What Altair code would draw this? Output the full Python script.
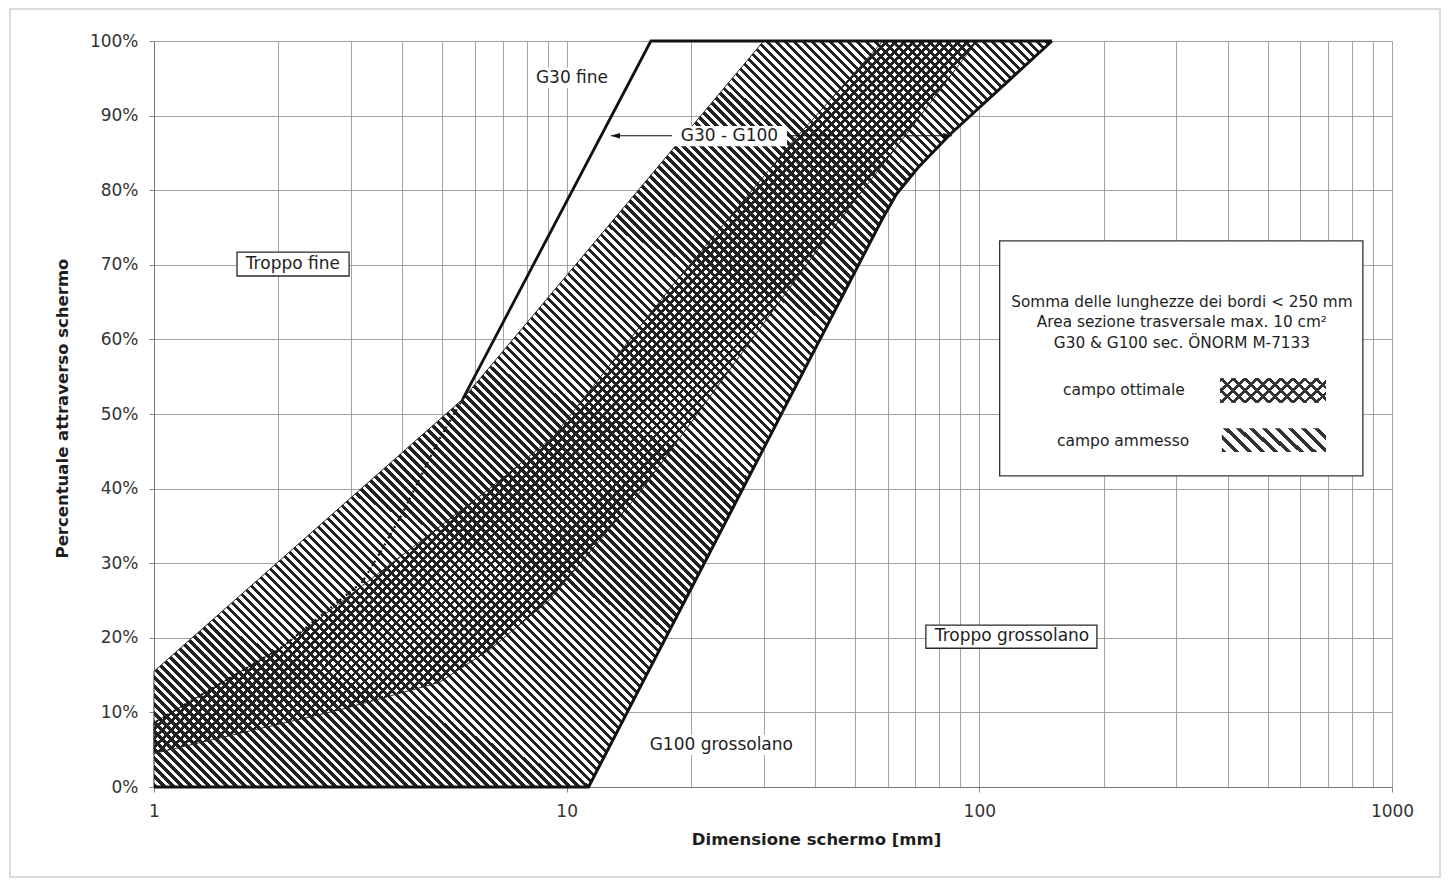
import altair as alt
import pandas as pd

# ---------------- data ----------------
grid_x = [1, 2, 3, 4, 5, 6, 7, 8, 9, 10, 20, 30, 40, 50, 60, 70, 80, 90,
          100, 200, 300, 400, 500, 600, 700, 800, 900, 1000]
grid_y = list(range(0, 101, 5))
x_domain = [1, 1000]
y_domain = [0, 100]

# campo ammesso (outer band), polygon order
ammesso_x = [1, 5.6, 30, 150, 85, 71, 63, 58, 11.3, 1, 1]
ammesso_y = [15.5, 52, 100, 100, 87.5, 83, 79.5, 76, 0, 0, 15.5]

# campo ottimale (inner band), polygon order
ottimale_x = [1, 2.05, 3.2, 6.5, 9.3, 17.9, 35.3, 58.4, 98.7, 65.7, 44, 15, 9.1, 6.5, 4.9, 2.8, 1, 1]
ottimale_y = [8.6, 18.8, 27, 40, 47, 67, 86.5, 100, 100, 87.1, 74.7, 39.4, 25.1, 18.4, 14, 10.3, 4.5, 8.6]

# G30 fine limit
g30_x = [150, 16, 5.6]
g30_y = [100, 100, 52]
g30_inner_x = [5.6, 4.9, 4.0, 3.6, 3.2, 2.05, 1]
g30_inner_y = [52, 46.5, 36.7, 32.2, 27.5, 18.8, 8.6]

# G100 coarse limit
g100_x = [1, 11.3, 58, 63, 71, 85, 150]
g100_y = [0, 0, 76, 79.5, 83, 87.5, 100]

# G30 - G100 arrow
arrow_x = [12.8, 85.9]
arrow_y = [87.3, 87.3]
arrow_shape = ["M0,0L2,-0.6L2,0.6Z", "M0,0L-2,-0.6L-2,0.6Z"]

# plain labels on white background
lab_text = ["G30 fine", "G30 - G100", "G100 grossolano"]
lab_x = [10.3, 24.8, 23.7]
lab_y = [95.0, 87.3, 5.6]
lab_x1 = [8.06, 18.0, 15.3]
lab_x2 = [13.24, 34.2, 36.8]
lab_y1 = [96.4, 88.6, 7.0]
lab_y2 = [93.7, 85.9, 4.3]

# boxed labels
box_text = ["Troppo fine", "Troppo grossolano"]
box_x = [2.17, 120]
box_y = [70.1, 20.2]
box_x1 = [1.589, 74.2]
box_x2 = [2.97, 192.7]
box_y1 = [71.7, 21.7]
box_y2 = [68.5, 18.6]

# legend box
leg_x1, leg_x2, leg_y1, leg_y2 = [112], [850], [73.2], [41.7]
leg_lines = ["Somma delle lunghezze dei bordi < 250 mm",
             "Area sezione trasversale max. 10 cm²",
             "G30 & G100 sec. ÖNORM M-7133"]
leg_lines_x = [309.7, 309.7, 309.7]
leg_lines_y = [65.0, 62.3, 59.5]
leg_items = ["campo ottimale", "campo ammesso"]
leg_items_x = [224, 223]
leg_items_y = [53.2, 46.4]
sw_x1 = [383, 387]
sw_x2 = [692, 692]
sw_y1 = [54.8, 48.1]
sw_y2 = [51.5, 44.9]

FONT = "DejaVu Sans"
INK = "#1e1e1e"
TRANSP = "rgba(255,255,255,0)"
MAJOR_X = "(datum.value == 1 || datum.value == 10 || datum.value == 100 || datum.value == 1000)"


def stripes(n, frac, color, gap, direction, r):
    """Linear-gradient stripe pattern (hatching)."""
    s = (1 + r) / (1 + r * r)
    if direction == "back":
        x1, y1, x2, y2 = 0, 1, s, 1 - s * r
    else:
        x1, y1, x2, y2 = 0, 0, s, s * r
    stops = []
    for k in range(n):
        a = round(k / n, 6)
        b = round((k + frac) / n, 6)
        c = round((k + 1) / n, 6)
        stops += [alt.GradientStop(offset=a, color=color),
                  alt.GradientStop(offset=b, color=color),
                  alt.GradientStop(offset=b, color=gap),
                  alt.GradientStop(offset=c, color=gap)]
    return alt.LinearGradient(gradient="linear", stops=stops,
                              x1=x1, y1=y1, x2=x2, y2=y2)


xscale = alt.Scale(type="log", domain=x_domain, nice=False)
yscale = alt.Scale(domain=y_domain, nice=False)

x_axis = alt.Axis(
    values=grid_x, grid=True, gridColor="#a3a3a3", gridWidth=1,
    labelExpr=MAJOR_X + " ? datum.label : ''",
    format="d",
    labelFont=FONT, labelFontSize=17, labelColor="#333", labelPadding=11,
    labelFlush=False, labelOverlap=False,
    tickSize=5, tickColor="#888",
    tickOpacity={"condition": {"test": MAJOR_X, "value": 1}, "value": 0},
    domainColor="#777",
    title="Dimensione schermo [mm]", titleFont=FONT, titleFontSize=16.5,
    titleFontWeight="bold", titleColor=INK,
    titleX=662, titleY=52, titleAlign="center", titleBaseline="middle",
)
y_axis = alt.Axis(
    values=grid_y, grid=True, gridColor="#a3a3a3", gridWidth=1,
    labelExpr="(datum.value % 10 == 0) ? (datum.value + '%') : ''",
    labelFont=FONT, labelFontSize=17, labelColor="#333", labelPadding=11,
    labelFlush=False, labelOverlap=False,
    tickSize=5, tickColor="#888",
    domainColor="#777",
    title="Percentuale attraverso schermo", titleFont=FONT, titleFontSize=16.5,
    titleFontWeight="bold", titleColor=INK,
    titleX=-92, titleY=367, titleAlign="center", titleBaseline="middle", titleAngle=-90,
)


def X(field="x"):
    return alt.X(f"{field}:Q", scale=xscale)


def Y(field="y"):
    return alt.Y(f"{field}:Q", scale=yscale)


def poly_df(xs, ys):
    return pd.DataFrame({"x": xs, "y": ys, "i": list(range(len(xs)))})


# ---------------- layers ----------------
axes_layer = alt.Chart(pd.DataFrame({"x": x_domain, "y": y_domain})).mark_point(
    opacity=0
).encode(
    x=alt.X("x:Q", scale=xscale, axis=x_axis),
    y=alt.Y("y:Q", scale=yscale, axis=y_axis),
)

# light frame around the whole chart area
frame = alt.Chart(pd.DataFrame({"x": [1]})).mark_rect(
    fill=None, stroke="#cfcfcf", strokeWidth=1.5
).encode(
    x=alt.value(-144), x2=alt.value(1286), y=alt.value(-32), y2=alt.value(836)
)

ammesso = alt.Chart(poly_df(ammesso_x, ammesso_y)).mark_line(
    fill=stripes(183, 0.5, "#222", "#ffffff", "back", 0.832),
    stroke="#2a2a2a", strokeWidth=1,
).encode(x=X(), y=Y(), order="i:Q")

ottimale = alt.Chart(poly_df(ottimale_x, ottimale_y)).mark_line(
    fill=stripes(170, 0.42, "#222", TRANSP, "fwd", 0.865),
    stroke="#2a2a2a", strokeWidth=1,
).encode(x=X(), y=Y(), order="i:Q")

g30_inner = alt.Chart(poly_df(g30_inner_x, g30_inner_y)).mark_line(
    color="#111", strokeWidth=2.2, strokeDash=[2, 2]
).encode(x=X(), y=Y(), order="i:Q")

g30 = alt.Chart(poly_df(g30_x, g30_y)).mark_line(
    color="#111", strokeWidth=2.8
).encode(x=X(), y=Y(), order="i:Q")

g100 = alt.Chart(poly_df(g100_x, g100_y)).mark_line(
    color="#111", strokeWidth=3
).encode(x=X(), y=Y(), order="i:Q")

arrow_df = pd.DataFrame({"x": arrow_x, "y": arrow_y, "shape": arrow_shape,
                         "i": [0, 1]})
arrow_line = alt.Chart(arrow_df).mark_line(color="#111", strokeWidth=1.2).encode(
    x=X(), y=Y(), order="i:Q")
arrow_heads = alt.Chart(arrow_df).mark_point(
    filled=True, color="#111", size=81, opacity=1
).encode(x=X(), y=Y(), shape=alt.Shape("shape:N", scale=None))

lab_df = pd.DataFrame({"t": lab_text, "x": lab_x, "y": lab_y,
                       "x1": lab_x1, "x2": lab_x2, "y1": lab_y1, "y2": lab_y2})
lab_bg = alt.Chart(lab_df).mark_rect(fill="white", strokeWidth=0).encode(
    x=X("x1"), x2="x2:Q", y=Y("y1"), y2="y2:Q")
lab_txt = alt.Chart(lab_df).mark_text(
    font=FONT, fontSize=17, color=INK, align="center", baseline="middle"
).encode(x=X(), y=Y(), text="t:N")

box_df = pd.DataFrame({"t": box_text, "x": box_x, "y": box_y,
                       "x1": box_x1, "x2": box_x2, "y1": box_y1, "y2": box_y2})
box_bg = alt.Chart(box_df).mark_rect(fill="white", stroke="#2a2a2a", strokeWidth=1.3).encode(
    x=X("x1"), x2="x2:Q", y=Y("y1"), y2="y2:Q")
box_txt = alt.Chart(box_df).mark_text(
    font=FONT, fontSize=17, color=INK, align="center", baseline="middle"
).encode(x=X(), y=Y(), text="t:N")

leg_df = pd.DataFrame({"x1": leg_x1, "x2": leg_x2, "y1": leg_y1, "y2": leg_y2})
leg_box = alt.Chart(leg_df).mark_rect(fill="white", stroke="#333", strokeWidth=1.3).encode(
    x=X("x1"), x2="x2:Q", y=Y("y1"), y2="y2:Q")
leg_lines_df = pd.DataFrame({"t": leg_lines, "x": leg_lines_x, "y": leg_lines_y})
leg_lines_txt = alt.Chart(leg_lines_df).mark_text(
    font=FONT, fontSize=15.3, color=INK, align="center", baseline="middle"
).encode(x=X(), y=Y(), text="t:N")
leg_items_df = pd.DataFrame({"t": leg_items, "x": leg_items_x, "y": leg_items_y})
leg_items_txt = alt.Chart(leg_items_df).mark_text(
    font=FONT, fontSize=15.5, color=INK, align="center", baseline="middle"
).encode(x=X(), y=Y(), text="t:N")

sw_df = pd.DataFrame({"x1": sw_x1, "x2": sw_x2, "y1": sw_y1, "y2": sw_y2})
sw_back_opt = alt.Chart(sw_df.iloc[[0]]).mark_rect(
    fill=stripes(11, 0.33, "#333", "#ffffff", "back", 0.236)
).encode(x=X("x1"), x2="x2:Q", y=Y("y1"), y2="y2:Q")
sw_fwd_opt = alt.Chart(sw_df.iloc[[0]]).mark_rect(
    fill=stripes(11, 0.33, "#333", TRANSP, "fwd", 0.236)
).encode(x=X("x1"), x2="x2:Q", y=Y("y1"), y2="y2:Q")
sw_back_amm = alt.Chart(sw_df.iloc[[1]]).mark_rect(
    fill=stripes(10, 0.4, "#333", "#ffffff", "back", 0.236)
).encode(x=X("x1"), x2="x2:Q", y=Y("y1"), y2="y2:Q")

chart = alt.layer(
    axes_layer, frame,
    ammesso, ottimale, g30_inner, g30, g100,
    arrow_line, arrow_heads,
    lab_bg, lab_txt, box_bg, box_txt,
    leg_box, leg_lines_txt, leg_items_txt,
    sw_back_opt, sw_fwd_opt, sw_back_amm,
).properties(
    width=1238, height=746,
    autosize=alt.AutoSizeParams(type="none"),
    padding={"left": 146, "top": 33, "right": 50, "bottom": 92},
    background="white",
).configure_view(stroke=None)

chart.save("out.html", embed_options={"renderer": "svg", "actions": False})
